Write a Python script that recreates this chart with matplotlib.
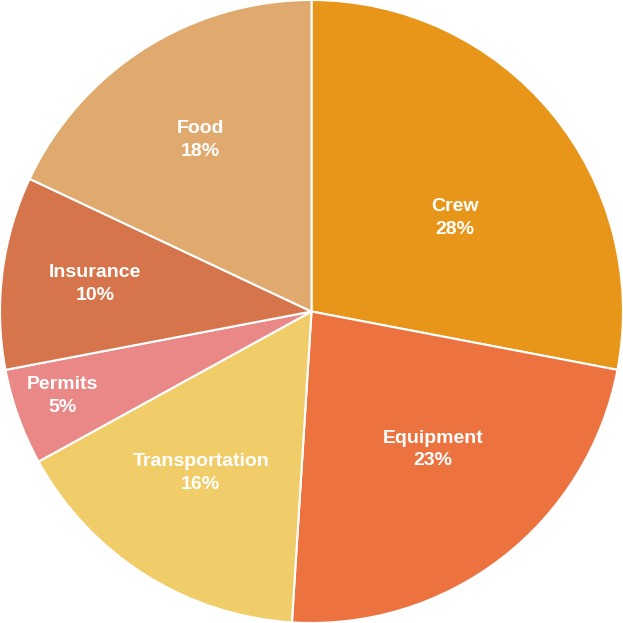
import numpy as np
import matplotlib
matplotlib.use("Agg")
import matplotlib.pyplot as plt

labels = ["Crew", "Equipment", "Transportation", "Permits", "Insurance", "Food"]
shares = [28, 23, 16, 5, 10, 18]
colors = ["#E8961A", "#EC723F", "#F0CD69", "#EA8787", "#D6754B", "#E0A96D"]
# label placement: fraction of radius and angle nudge (deg) from wedge middle
label_r = [0.55, 0.59, 0.63, 0.845, 0.70, 0.655]
label_dang = [-6.5, 3.5, -2.0, -1.0, 0.0, 0.5]

plt.rcParams['font.family'] = ['Liberation Sans', 'DejaVu Sans']

fig = plt.figure(figsize=(6.23, 6.23), dpi=100)
ax = fig.add_axes([0, 0, 1, 1])
wedges, _ = ax.pie(shares, colors=colors, startangle=90, counterclock=False,
                   radius=1.0, wedgeprops=dict(edgecolor="white", linewidth=1.5))
ax.set_xlim(-1.0, 1.0)
ax.set_ylim(-1.0, 1.0)
ax.set_aspect("equal")

total = sum(shares)
for w, name, v, r, da in zip(wedges, labels, shares, label_r, label_dang):
    mid = np.deg2rad((w.theta1 + w.theta2) / 2 + da)
    x, y = r * np.cos(mid), r * np.sin(mid)
    ax.text(x, y, "%s\n%d%%" % (name, round(100 * v / total)), ha="center", va="center",
            color="white", fontsize=14, fontweight="bold", linespacing=1.45)

ax.axis("off")
fig.savefig("out.png", dpi=100)
